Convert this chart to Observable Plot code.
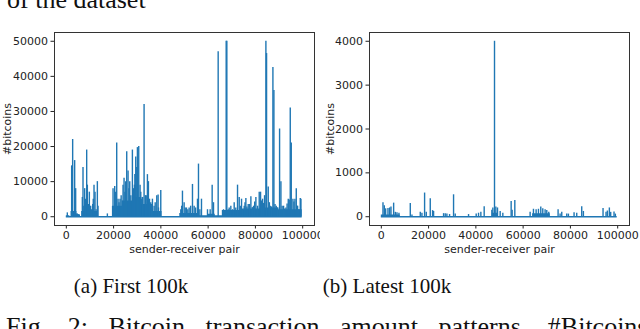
<!DOCTYPE html>
<html><head><meta charset="utf-8">
<script src="https://cdn.jsdelivr.net/npm/d3@7"></script>
<script src="https://cdn.jsdelivr.net/npm/@observablehq/plot@0.6"></script>
<style>
html,body{margin:0;padding:0;background:#fff;}
#page{position:relative;width:640px;height:329px;overflow:hidden;font-family:"Liberation Serif",serif;color:#111;}
.panel{position:absolute;top:0;width:320px;height:260px;overflow:hidden;z-index:1;}
.panel svg{overflow:hidden;display:block;}
.txt{position:absolute;white-space:nowrap;font-size:20px;line-height:1;z-index:2;}
.cap{transform:translateX(-50%);font-size:21px;}
</style></head><body>
<div id="page">
  <div class="txt" style="left:7px;top:-13px;font-size:26px;">of the dataset</div>
  <div class="panel" id="pa" style="left:0"></div>
  <div class="panel" id="pb" style="left:320px"></div>
  <div class="txt cap" style="left:131px;top:276px;">(a) First 100k</div>
  <div class="txt cap" style="left:387px;top:276px;">(b) Latest 100k</div>
  <div class="txt" style="left:6px;top:314px;font-size:26px;word-spacing:14px;">Fig. 2: Bitcoin transaction amount patterns. #Bitcoins in</div>
</div>
<script>
// ---- Panel (a): First 100k ----
const spikesAX = [424,2260,2683,3530,3954,4660,6778,7060,7767,8614,8896,9743,10308,11155,11720,12144,13132,13414,17368,
  19768,20474,21321,21886,22733,23722,24428,25134,25557,26122,26828,27958,28381,29370,30076,30640,31205,31911,32900,33464,34312,34735,35724,36430,37136,38266,38830,39960,
  48432,49138,49844,50832,51962,53374,54080,55492,55915,57186,59728,60857,61704,62270,64246,66505,67635,67917,68906,70318,71024,72436,73142,74130,75260,75966,76954,78084,79214,80202,81614,82178,83026,83873,84438,84720,85426,86273,87403,87826,88815,90227,90792,91921,92910,93898,94745,95169,95875,96722,97287,97852,98981,99264,
  20900,22300,23200,24000,24800,26500,27300,28800,29000,29800,31500,32300,33800,35200,36000,37600,39000,
  68500,69600,70700,71700,73600,74600,75600,76400,77500,78700,79700,80900,82600,83500,85900,86800,88300,89300,91300,92400,93400,94300,96300,97600,98400,
  4200,5200,7400,8200,9300,10700,11400,12600,48800,50300,51400,52600,54700,56500];
const spikesAY = [1100,14500,22000,16000,8000,800,5500,14000,8000,19000,9000,7000,3000,3500,9000,7000,10000,3000,800,
  8000,8600,21000,5000,5000,4500,11000,10000,18500,13000,10000,19000,8000,17000,19700,20000,9000,5000,32000,6000,12000,10000,4000,5000,3000,6000,6200,7500,
  2000,7300,4000,2500,2500,9200,3000,5000,15000,5000,2000,2000,9000,4000,47000,2000,50000,50000,2500,2000,4000,9000,5500,5000,3000,5200,3500,5700,3000,5500,7000,7000,5000,6000,50000,46500,8500,3000,42500,36000,3000,25000,10000,3000,2500,5000,31000,21000,5000,5000,8000,3000,5200,5000,
  7000,4000,6000,9000,7000,8000,6000,9000,12000,14000,7000,5500,6000,5000,3500,4000,2500,
  2000,3000,1800,2500,3000,2200,4000,2800,3500,2600,4200,3000,4500,3800,4000,2800,3500,2500,3000,2200,3600,4800,4200,3000,2000,
  800,600,3000,5000,3500,2000,5000,2000,3000,2500,2000,3000,2500,2000];
const floorAX = [0,1500,2000,4500,6000,6500,13500,19500,24000,28000,32000,36000,40500,48000,56000,60000,63000,66000,75000,82000,90000,99800];
const floorAY = [300,0,1500,500,0,1500,0,3000,4500,5500,3500,1500,0,900,300,700,300,1800,2200,2500,2000,0];
const yTicksA = [0,10000,20000,30000,40000,50000];

// ---- Panel (b): Latest 100k ----
const spikesBX = [704,1268,1831,2817,3521,4085,5211,5916,6620,7465,12254,12958,16479,17184,18310,19015,20705,21691,22113,26339,27043,27747,28874,30564,31268,36903,40142,41127,42113,43521,46761,47184,47888,48451,49156,50282,51409,54930,55352,56479,62958,64366,65493,66479,67465,68310,69296,70000,70845,74789,75634,76338,78451,79155,81549,82676,84789,85493,93806,95074,95637,96479,97042,98451,99014];
const spikesBY = [320,250,180,190,200,220,310,100,90,80,300,40,100,80,540,100,410,140,120,70,70,60,50,500,60,50,60,80,100,230,150,200,4000,220,200,120,80,350,150,370,100,170,160,170,220,180,160,140,100,160,60,100,60,60,90,80,230,120,190,100,130,200,100,110,60];
const floorBX = [0,8000,47000,49500,64000,71500,99800];
const floorBY = [40,0,80,0,70,0,0];
const yTicksB = [0,1000,2000,3000,4000];

const xTicks = [0,20000,40000,60000,80000,100000];
const blue = "#1f77b4";

function zip(xs, ys){ return xs.map((x,i)=>({x, y: ys[i]})); }

function panel(sp, fl, yDomain, yTicks, mL, mR, yLabOff){
  const floor = zip(fl[0], fl[1]);
  const spikes = zip(sp[0], sp[1]);
  return Plot.plot({
    width: 320, height: 260,
    marginLeft: mL, marginRight: mR, marginTop: 32, marginBottom: 35,
    style: {fontFamily: "DejaVu Sans", fontSize: "11px", color: "#222", background: "transparent", overflow: "hidden"},
    x: {domain: [-5000, 105000], ticks: xTicks, tickFormat: d3.format("d"), tickSize: 3.5, tickPadding: 2,
        label: "sender-receiver pair", labelAnchor: "center", labelOffset: 27, labelArrow: "none"},
    y: {domain: yDomain, ticks: yTicks, tickFormat: d3.format("d"), tickSize: 3.5, tickPadding: 3,
        label: "#bitcoins", labelAnchor: "center", labelOffset: yLabOff, labelArrow: "none"},
    marks: [
      Plot.areaY(floor, {x: "x", y: "y", curve: "step-after", fill: blue}),
      Plot.ruleX(spikes, {x: "x", y1: 0, y2: "y", stroke: blue, strokeWidth: 1.4}),
      Plot.ruleY([0], {x1: fl[0][0], x2: fl[0][fl[0].length-1], stroke: blue, strokeWidth: 1.5}),
      Plot.frame({stroke: "#333", strokeWidth: 1})
    ]
  });
}

document.getElementById("pa").append(panel([spikesAX, spikesAY], [floorAX, floorAY], [-2500, 52500], yTicksA, 54, 6, 51));
document.getElementById("pb").append(panel([spikesBX, spikesBY], [floorBX, floorBY], [-200, 4200], yTicksB, 49, 11, 43));
</script>
</body></html>
